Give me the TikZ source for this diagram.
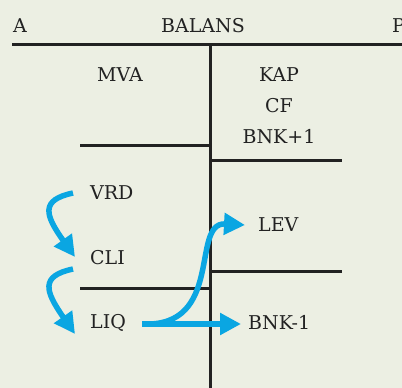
\documentclass[tikz,border=0pt]{standalone}
\usepackage{fontspec}
\setmainfont{DejaVu Serif}
\usetikzlibrary{arrows.meta}
\definecolor{paper}{HTML}{ECEFE3}
\definecolor{flowblue}{HTML}{0AA6E2}
\definecolor{ink}{HTML}{222222}
\tikzset{
  lbl/.style={inner sep=0pt, text=ink, font=\fontsize{19}{23}\selectfont},
  rule/.style={draw=ink, line width=3pt},
  flow/.style={draw=flowblue, line width=5.5pt, -{Triangle[length=21pt,width=21pt]}},
}
\begin{document}
\begin{tikzpicture}[x=1pt,y=-1pt]

  \fill[paper] (0,0) rectangle (402,388);
  \useasboundingbox (0,0) rectangle (402,388);

  % heading
  \node[lbl, anchor=west] (a) at (13,26) {A};
  \node[lbl] (title) at (203,26) {BALANS};
  \node[lbl, anchor=west] (p) at (392,26) {P};

  \draw[rule] (12,44) -- (402,44);
  \draw[rule] (210,44) -- (210,388);

  % left side
  \node[lbl] (mva) at (120,75) {MVA};
  \draw[rule] (80,145) -- (210,145);
  \node[lbl, anchor=west] (vrd) at (90,193) {VRD};
  \node[lbl, anchor=west] (cli) at (90,258) {CLI};
  \draw[rule] (80,288) -- (210,288);
  \node[lbl, anchor=west] (liq) at (90,323) {LIQ};

  % right side
  \node[lbl] (kap) at (279,75) {KAP};
  \node[lbl] (cf) at (279,106) {CF};
  \node[lbl] (bnkp) at (279,137) {BNK+1};
  \draw[rule] (210,160) -- (342,160);
  \node[lbl, anchor=west] (lev) at (258,225) {LEV};
  \draw[rule] (210,271) -- (342,271);
  \node[lbl, anchor=west] (bnkm) at (248,323) {BNK-1};

  % flows
  \draw[flow] ([xshift=-17pt]vrd.west) .. controls (40,200) and (45,215) .. ([xshift=-15pt,yshift=1pt]cli.west);
  \draw[flow] ([xshift=-17pt,yshift=-11pt]cli.west) .. controls (40,276) and (45,291) .. ([xshift=-15pt,yshift=-11pt]liq.west);
  \draw[flow] ([xshift=16pt,yshift=-1pt]liq.east) .. controls (225,328) and (190,222) .. ([xshift=-13pt]lev.west);
  \draw[flow] ([xshift=16pt,yshift=-1pt]liq.east) -- ([xshift=-7pt,yshift=-1pt]bnkm.west);
\end{tikzpicture}
\end{document}
